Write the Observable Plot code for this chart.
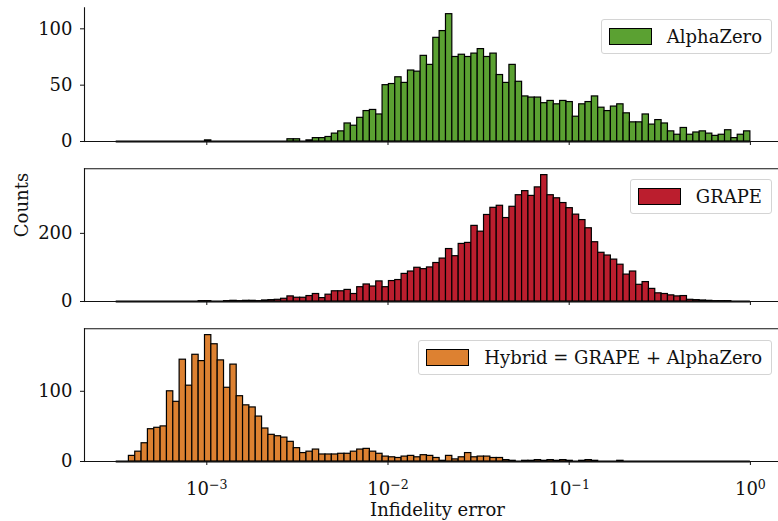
<!DOCTYPE html>
<html><head><meta charset="utf-8">
<script src="https://cdn.jsdelivr.net/npm/d3@7"></script>
<script src="https://cdn.jsdelivr.net/npm/@observablehq/plot@0.6"></script>
<style>
body{margin:0;background:#fff;overflow:hidden;}
#chart{position:relative;width:778px;height:521px;overflow:hidden;font-family:"DejaVu Serif",serif;background:#fff;}
#chart svg{display:block;}
.legend{position:absolute;right:6px;height:35px;box-sizing:border-box;border:1px solid #d4d4d4;border-radius:3px;background:rgba(255,255,255,0.85);display:flex;align-items:center;padding:0 9px 0 7px;font-size:18px;color:#111;white-space:nowrap;}
.sw{width:43px;height:17px;box-sizing:border-box;border:1.3px solid #000;margin-right:15px;}
</style></head><body><div id="chart"></div><script>
// Histogram bins: 100 log-spaced bins from 10^-3.5 to 10^0
const binStart = -3.5;
const binWidth = 0.035;

const alphaZeroCounts = [
  0,0,0,0,0,0,0,0,0,0,
  0,0,0,0,1,0,0,0,0,0,
  0,0,0,0,0,0,0,2,2,0,
  1,3,3,4,7,9,16,14,21,27,
  28,24,50,51,57,52,63,62,76,68,
  92,98,113,75,77,75,78,82,75,78,
  59,52,68,53,40,39,39,34,36,33,
  36,35,22,33,35,40,30,27,31,33,
  25,17,17,24,15,19,16,9,6,12,
  6,8,9,7,5,6,10,3,6,9
];
const grapeCounts = [
  0,0,0,0,0,0,0,0,0,0,
  0,0,0,1,1,0,0,1,2,1,
  2,2,1,3,4,5,8,15,11,11,
  16,22,10,20,30,30,34,22,42,50,
  44,59,42,60,63,81,88,99,95,100,
  113,126,154,133,169,172,222,205,254,275,
  281,245,278,312,324,310,335,371,312,303,
  289,274,255,239,215,174,143,135,123,108,
  79,88,49,57,37,24,22,18,15,16,
  5,4,3,2,1,1,1,0,0,0
];
const hybridCounts = [
  0,0,8,14,26,46,48,50,100,85,
  145,108,152,143,180,167,144,105,138,93,
  80,77,64,47,38,36,34,28,19,12,
  14,17,10,10,10,11,11,14,17,18,
  14,11,7,6,5,7,8,6,9,8,
  5,1,8,3,6,12,6,7,7,5,
  5,2,1,0,1,1,2,1,2,1,
  2,1,0,1,2,1,0,0,0,1,
  0,0,0,0,0,0,0,0,0,0,
  0,0,0,0,0,0,0,0,0,0
];

const seriesNames = ["AlphaZero", "GRAPE", "Hybrid = GRAPE + AlphaZero"];
const seriesColors = ["#5ba132", "#bb1e2e", "#dd8131"];
const xTicks = [1e-3, 1e-2, 1e-1, 1];
const xTickExponents = ["\u22123", "\u22122", "\u22121", "0"];
const yTicksAlpha = [0, 50, 100];
const yTicksGrape = [0, 200];
const yTicksHybrid = [0, 100];
const xLabel = "Infidelity error";
const yLabel = "Counts";

const xDomain = [Math.pow(10, -3.675), Math.pow(10, 0.175)];

function toBins(counts) {
  return counts.map((c, i) => ({
    x1: Math.pow(10, binStart + i * binWidth),
    x2: Math.pow(10, binStart + (i + 1) * binWidth),
    count: c
  }));
}

function panel(counts, color, o) {
  const bins = toBins(counts);
  const ymax = d3.max(counts) * 1.05;
  const marks = [
    Plot.ruleY([0], {x1: Math.pow(10, binStart), x2: 1, stroke: "#000", strokeWidth: 1.8}),
    Plot.rect(bins.filter(d => d.count > 0), {x1: "x1", x2: "x2", y1: () => 0, y2: "count", fill: color, stroke: "#000", strokeWidth: 1.2}),
    Plot.frame({anchor: "left", stroke: "#111", strokeWidth: 1.1}),
    Plot.frame({anchor: "bottom", stroke: "#111", strokeWidth: 1.1}),
    Plot.axisY({ticks: o.yTicks, tickSize: 4, tickPadding: 8, label: null, tickFormat: d => String(d)}),
    Plot.axisX({ticks: xTicks, tickSize: 4, tickPadding: 17, label: null,
      tickFormat: o.xLabels ? (d => "10^" + xTickExponents[xTicks.indexOf(d)]) : (() => "")})
  ];
  if (o.top) marks.push(Plot.frame({anchor: "top", stroke: "#111", strokeWidth: 1.1}));
  if (o.extra) marks.push(...o.extra);
  return Plot.plot({
    width: 778,
    height: o.height,
    marginLeft: 84,
    marginRight: 0,
    marginTop: o.marginTop,
    marginBottom: o.height - 141,
    x: {type: "log", domain: xDomain, range: [84, 781.6]},
    y: {domain: [0, ymax]},
    style: {fontFamily: "DejaVu Serif", fontSize: "18px", color: "#111", background: "white"},
    marks
  });
}

const chart = document.getElementById("chart");

const p1 = panel(alphaZeroCounts, seriesColors[0], {height: 160, marginTop: 7.3, yTicks: yTicksAlpha, top: false, xLabels: false});
const p2 = panel(grapeCounts, seriesColors[1], {height: 160, marginTop: 8.3, yTicks: yTicksGrape, top: true, xLabels: false,
  extra: [Plot.text([yLabel], {frameAnchor: "left", text: d => d, rotate: -90, dx: -62, dy: 2, fontSize: 18, fill: "#111"})]});
const p3 = panel(hybridCounts, seriesColors[2], {height: 201, marginTop: 8.3, yTicks: yTicksHybrid, top: true, xLabels: true,
  extra: [Plot.text([xLabel], {frameAnchor: "bottom", lineAnchor: "middle", text: d => d, dx: 6, dy: 49, fontSize: 18, fill: "#111"})]});

chart.appendChild(p1);
chart.appendChild(p2);
chart.appendChild(p3);

// render superscripts of the x tick labels
d3.select(p3).selectAll('g[aria-label="x-axis tick label"] text').each(function() {
  const t = d3.select(this);
  const s = t.text();
  if (!s.includes("^")) return;
  const [base, exp] = s.split("^");
  t.text("");
  t.append("tspan").text(base);
  t.append("tspan").attr("dy", "-0.5em").attr("font-size", "0.7em").text(exp);
});

// legends
const legendTops = [19, 179, 340];
seriesNames.forEach((name, i) => {
  const lg = document.createElement("div");
  lg.className = "legend";
  lg.style.top = legendTops[i] + "px";
  const sw = document.createElement("div");
  sw.className = "sw";
  sw.style.background = seriesColors[i];
  const tx = document.createElement("span");
  tx.textContent = name;
  lg.appendChild(sw);
  lg.appendChild(tx);
  chart.appendChild(lg);
});
</script></body></html>
